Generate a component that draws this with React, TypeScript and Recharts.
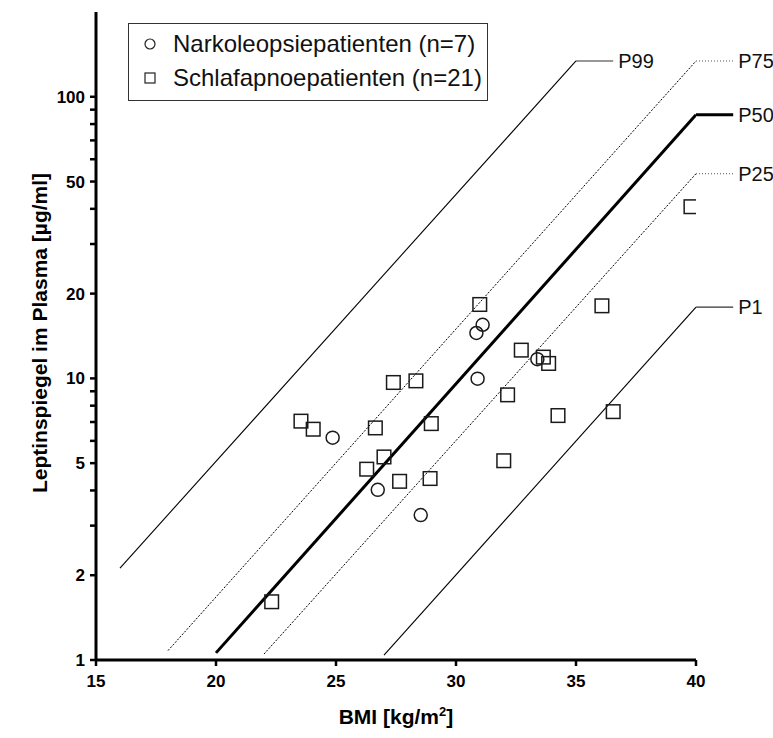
import React from "react";
import {
  ComposedChart,
  Legend,
  Line,
  ReferenceLine,
  Scatter,
  XAxis,
  YAxis,
} from "recharts";

// Leptin vs. BMI mit Perzentilenkurven (log-Skala)

const FONT = '"Liberation Sans", Arial, Helvetica, sans-serif';

const xTicks = [15, 20, 25, 30, 35, 40];
const yTicks = [1, 2, 3, 4, 5, 6, 7, 8, 9, 10, 20, 30, 40, 50, 60, 70, 80, 90, 100];
const yLabeled = [1, 2, 5, 10, 20, 50, 100];

const seriesNames = ["Narkoleopsiepatienten (n=7)", "Schlafapnoepatienten (n=21)"];

const narkolepsie = [
  { x: 24.86, y: 6.16 },
  { x: 26.74, y: 4.02 },
  { x: 28.53, y: 3.27 },
  { x: 30.85, y: 14.5 },
  { x: 30.9, y: 9.98 },
  { x: 31.11, y: 15.5 },
  { x: 33.39, y: 11.7 },
];

const schlafapnoe = [
  { x: 22.32, y: 1.61 },
  { x: 23.54, y: 7.05 },
  { x: 24.05, y: 6.6 },
  { x: 26.28, y: 4.76 },
  { x: 26.64, y: 6.67 },
  { x: 27.0, y: 5.26 },
  { x: 27.39, y: 9.67 },
  { x: 27.65, y: 4.31 },
  { x: 28.33, y: 9.8 },
  { x: 28.92, y: 4.41 },
  { x: 28.97, y: 6.91 },
  { x: 30.99, y: 18.3 },
  { x: 31.99, y: 5.1 },
  { x: 32.15, y: 8.74 },
  { x: 32.72, y: 12.6 },
  { x: 33.64, y: 11.9 },
  { x: 33.86, y: 11.3 },
  { x: 34.25, y: 7.38 },
  { x: 36.08, y: 18.1 },
  { x: 36.55, y: 7.62 },
  { x: 39.79, y: 40.7 },
];

// Perzentilen: Anfangs- und Endpunkt der Geraden
const p99 = [{ x: 16, y: 2.12 }, { x: 35, y: 134 }];
const p75 = [{ x: 18, y: 1.08 }, { x: 40, y: 134 }];
const p50 = [{ x: 20, y: 1.06 }, { x: 40, y: 86.3 }];
const p25 = [{ x: 22, y: 1.05 }, { x: 40, y: 53.3 }];
const p1 = [{ x: 27, y: 1.04 }, { x: 40, y: 17.9 }];

const leaderLen = 1.55; // BMI-Einheiten für die Beschriftungslinie

function Ring(props: any) {
  const { cx, cy } = props;
  if (cx == null || cy == null) return null;
  return <circle cx={cx} cy={cy} r={6.5} fill="none" stroke="#1a1a1a" strokeWidth={1.5} />;
}

function Box(props: any) {
  const { cx, cy } = props;
  if (cx == null || cy == null) return null;
  return (
    <rect x={cx - 6.8} y={cy - 6.8} width={13.6} height={13.6} fill="none" stroke="#1a1a1a" strokeWidth={1.5} />
  );
}

function LegendBox() {
  return (
    <div
      style={{
        border: "1.5px solid #333",
        background: "#fff",
        width: 358,
        height: 73,
        boxSizing: "content-box",
        fontFamily: FONT,
        fontSize: 24,
        color: "#111",
        lineHeight: "34px",
        paddingTop: 3,
      }}
    >
      {seriesNames.map((name, i) => (
        <div key={name} style={{ display: "flex", alignItems: "center", height: 34 }}>
          <svg width={44} height={34}>
            {i === 0 ? (
              <circle cx={21} cy={17} r={5} fill="none" stroke="#222" strokeWidth={1.2} />
            ) : (
              <rect x={16} y={12} width={10} height={10} fill="none" stroke="#222" strokeWidth={1.2} />
            )}
          </svg>
          <span>{name}</span>
        </div>
      ))}
    </div>
  );
}

function XTitle(props: any) {
  const { x, y, width } = props.viewBox;
  return (
    <text x={x + width / 2} y={y + 64} textAnchor="middle" fontFamily={FONT} fontSize={21} fontWeight="bold" fill="#000">
      <tspan>BMI [kg/m</tspan>
      <tspan dy={-8} fontSize={13}>2</tspan>
      <tspan dy={8}>]</tspan>
    </text>
  );
}

function YTitle(props: any) {
  const { y, height } = props.viewBox;
  const cx = 39;
  const cy = y + height / 2 - 3;
  return (
    <text
      x={cx}
      y={cy}
      transform={`rotate(-90, ${cx}, ${cy})`}
      textAnchor="middle"
      dominantBaseline="central"
      fontFamily={FONT}
      fontSize={21}
      fontWeight="bold"
      fill="#000"
    >
      Leptinspiegel im Plasma [µg/ml]
    </text>
  );
}

const pLabel = (value: string) => ({
  value,
  position: "right" as const,
  offset: 5,
  fill: "#111",
  fontSize: 20,
  fontFamily: FONT,
});

export default function App() {
  const last = (d: { x: number; y: number }[]) => d[d.length - 1];
  const leader = (d: { x: number; y: number }[]) => [
    { x: last(d).x, y: last(d).y },
    { x: last(d).x + leaderLen, y: last(d).y },
  ];

  return (
    <div style={{ position: "absolute", left: 0, top: 0, background: "#fff" }}>
      <ComposedChart width={773} height={738} margin={{ top: 12, right: 77, bottom: 0, left: 0 }}>
        <XAxis
          type="number"
          dataKey="x"
          domain={[15, 40]}
          allowDataOverflow
          ticks={xTicks}
          interval={0}
          height={78}
          tickSize={6}
          tickMargin={9}
          axisLine={{ stroke: "#000", strokeWidth: 3 }}
          tickLine={{ stroke: "#000", strokeWidth: 2.5 }}
          tick={{ fill: "#000", fontSize: 17, fontWeight: "bold", fontFamily: FONT }}
          label={{ content: <XTitle /> }}
        />
        <YAxis
          type="number"
          dataKey="y"
          scale="log"
          domain={[1, 200]}
          allowDataOverflow
          ticks={yTicks}
          interval={0}
          width={96}
          tickSize={6}
          tickMargin={5}
          tickFormatter={(v: number) => (yLabeled.includes(v) ? String(v) : "")}
          axisLine={{ stroke: "#000", strokeWidth: 3 }}
          tickLine={{ stroke: "#000", strokeWidth: 2.5 }}
          tick={{ fill: "#000", fontSize: 17, fontWeight: "bold", fontFamily: FONT }}
          label={{ content: <YTitle /> }}
        />

        <Line data={p99} dataKey="y" stroke="#000" strokeWidth={1.1} dot={false} isAnimationActive={false} legendType="none" />
        <Line data={p75} dataKey="y" stroke="#000" strokeWidth={1} strokeDasharray="2 1.5" dot={false} isAnimationActive={false} legendType="none" />
        <Line data={p50} dataKey="y" stroke="#000" strokeWidth={3} dot={false} isAnimationActive={false} legendType="none" />
        <Line data={p25} dataKey="y" stroke="#000" strokeWidth={1} strokeDasharray="2 1.5" dot={false} isAnimationActive={false} legendType="none" />
        <Line data={p1} dataKey="y" stroke="#000" strokeWidth={1.1} dot={false} isAnimationActive={false} legendType="none" />

        <ReferenceLine segment={leader(p99)} ifOverflow="visible" stroke="#333" strokeWidth={1.2} label={pLabel("P99")} />
        <ReferenceLine segment={leader(p75)} ifOverflow="visible" stroke="#555" strokeWidth={1} strokeDasharray="1 2" label={pLabel("P75")} />
        <ReferenceLine segment={leader(p50)} ifOverflow="visible" stroke="#000" strokeWidth={3} label={pLabel("P50")} />
        <ReferenceLine segment={leader(p25)} ifOverflow="visible" stroke="#555" strokeWidth={1} strokeDasharray="1 2" label={pLabel("P25")} />
        <ReferenceLine segment={leader(p1)} ifOverflow="visible" stroke="#333" strokeWidth={1.2} label={pLabel("P1")} />

        <Scatter name={seriesNames[0]} data={narkolepsie} shape={<Ring />} isAnimationActive={false} />
        <Scatter name={seriesNames[1]} data={schlafapnoe} shape={<Box />} isAnimationActive={false} />

        <Legend
          layout="vertical"
          align="center"
          verticalAlign="middle"
          content={() => <LegendBox />}
          wrapperStyle={{ left: 128, top: 23, width: "auto", height: "auto" }}
        />
      </ComposedChart>
    </div>
  );
}
